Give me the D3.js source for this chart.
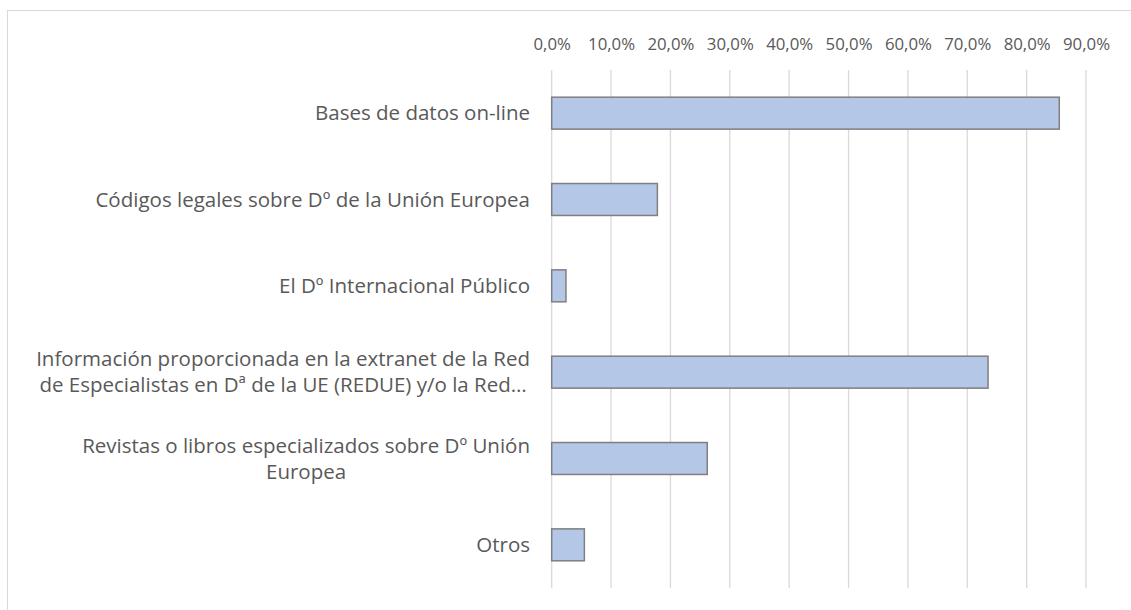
<!DOCTYPE html>
<html>
<head>
<meta charset="utf-8">
<script src="https://cdn.jsdelivr.net/npm/d3@7"></script>
<style>
  html, body { margin: 0; padding: 0; background: #fff; }
  svg { display: block; }
  text { font-family: "Open Sans", "Noto Sans", sans-serif; fill: #595959; }
</style>
</head>
<body>
<svg id="chart" width="1131" height="610"></svg>
<script>
// Categories (each entry is a list of wrapped lines)
const categories = [
  ["Bases de datos on-line"],
  ["Códigos legales sobre Dº de la Unión Europea"],
  ["El Dº Internacional Público"],
  ["Información proporcionada en la extranet de la Red", "de Especialistas en Dª de la UE (REDUE) y/o la Red…"],
  ["Revistas o libros especializados sobre Dº Unión", "Europea"],
  ["Otros"]
];
// Share of responses per category
const values = [0.855, 0.178, 0.024, 0.735, 0.262, 0.055];
// Axis ticks
const tickValues = [0, 0.1, 0.2, 0.3, 0.4, 0.5, 0.6, 0.7, 0.8, 0.9];

const svg = d3.select("#chart");
const W = 1131, H = 610;
const plot = { left: 551.7, right: 1086, top: 70, bottom: 588 };

// outer frame of the chart area
svg.append("rect")
  .attr("x", 7.5).attr("y", 10.5)
  .attr("width", W + 20).attr("height", H + 20)
  .attr("fill", "none").attr("stroke", "#d9d9d9").attr("stroke-width", 1);

const keys = categories.map(c => c.join(" "));
const x = d3.scaleLinear().domain([0, 0.9]).range([plot.left, plot.right]);
const y = d3.scaleBand().domain(keys).range([plot.top, plot.bottom])
  .paddingInner(0.63).paddingOuter(0.315);

const es = d3.formatLocale({ decimal: ",", thousands: ".", grouping: [3], currency: ["", "€"] });
const fmt = es.format(".1%");

// vertical gridlines
svg.append("g").selectAll("line").data(tickValues).join("line")
  .attr("x1", d => x(d)).attr("x2", d => x(d))
  .attr("y1", plot.top).attr("y2", plot.bottom)
  .attr("stroke", "#d9d9d9").attr("stroke-width", 1.3);

// top axis labels
const axis = svg.append("g")
  .attr("transform", "translate(0,50)")
  .call(d3.axisTop(x).tickValues(tickValues).tickFormat(fmt).tickSize(0).tickPadding(0));
axis.select(".domain").remove();
axis.selectAll("text")
  .attr("y", 0)
  .attr("dy", "0")
  .style("font-family", "\"Open Sans\", sans-serif")
  .style("font-size", "16.8px")
  .attr("fill", "#595959");

// bars
svg.append("g").selectAll("rect").data(values).join("rect")
  .attr("x", x(0))
  .attr("y", (d, i) => y(keys[i]))
  .attr("width", d => x(d) - x(0))
  .attr("height", y.bandwidth())
  .attr("fill", "#b4c7e7")
  .attr("stroke", "#7f7f7f")
  .attr("stroke-width", 1.5);

// category labels, lines centred within a right-aligned block
const fontSize = 20.5;
const lineH = 26;
const labelRight = 530;
const lg = svg.append("g").style("font-size", fontSize + "px");
categories.forEach((lines, i) => {
  const cy = y(keys[i]) + y.bandwidth() / 2;
  const t = lg.append("text").attr("text-anchor", "middle");
  lines.forEach((ln, j) => {
    t.append("tspan").text(ln)
      .attr("y", cy + (j - (lines.length - 1) / 2) * lineH)
      .attr("dy", "0.35em");
  });
  // width of widest line sets the block centre
  const widths = [];
  t.selectAll("tspan").each(function () { widths.push(this.getComputedTextLength()); });
  const wmax = d3.max(widths);
  t.selectAll("tspan").attr("x", labelRight - wmax / 2);
});
</script>
</body>
</html>
